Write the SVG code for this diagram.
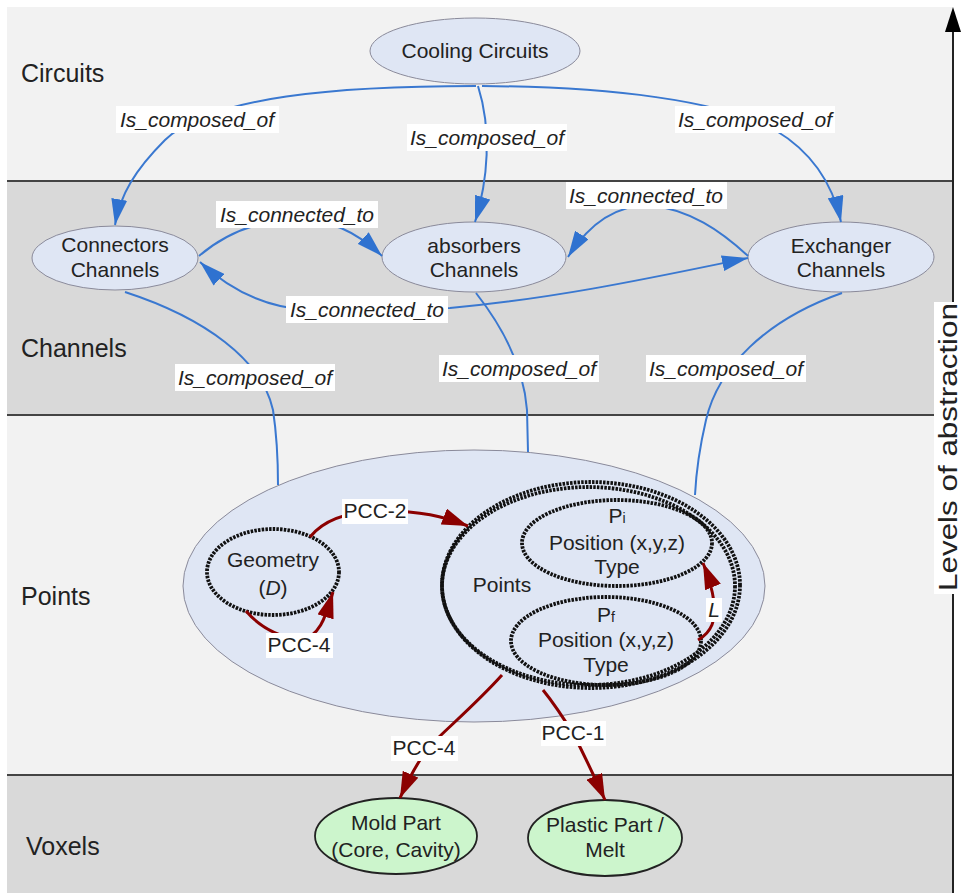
<svg xmlns="http://www.w3.org/2000/svg" width="962" height="895" viewBox="0 0 962 895">
<style>
text{font-family:"Liberation Sans",Arial,sans-serif;fill:#222;}
.band{font-size:25px;}
.nt{font-size:21px;text-anchor:middle;}
.el{font-size:21px;font-style:italic;text-anchor:middle;}
.pl{font-size:21px;text-anchor:middle;}
.lbg{fill:#fff;}
.node{fill:#dfe6f4;stroke:#8a8a9a;stroke-width:1;}
.dash{fill:none;stroke:#111;stroke-width:3.8;stroke-dasharray:2.5 1.2;}
.green{fill:#ccf5cc;stroke:#222;stroke-width:1.8;}
.blue{fill:none;stroke:#3a78d0;stroke-width:2;}
.red{fill:none;stroke:#8b0000;stroke-width:3;}
.sep{stroke:#444;stroke-width:2;}
</style>
<defs>
<marker id="ab" viewBox="0 0 26 16" refX="26" refY="8" markerWidth="26" markerHeight="16" markerUnits="userSpaceOnUse" orient="auto-start-reverse"><path d="M0,0 L26,8 L0,16 z" fill="#2f72d0"/></marker>
<marker id="ar" viewBox="0 0 26 17" refX="26" refY="8.5" markerWidth="26" markerHeight="17" markerUnits="userSpaceOnUse" orient="auto"><path d="M0,0 L26,8.5 L0,17 z" fill="#8b0000"/></marker>
</defs>

<g id="bands">
<rect x="7" y="7" width="946" height="174" fill="#f2f2f2"/>
<rect x="7" y="181" width="946" height="234" fill="#d9d9d9"/>
<rect x="7" y="415" width="946" height="360" fill="#f2f2f2"/>
<rect x="7" y="775" width="946" height="118" fill="#d9d9d9"/>
<line class="sep" x1="7" y1="181" x2="953" y2="181"/>
<line class="sep" x1="7" y1="415" x2="953" y2="415"/>
<line class="sep" x1="7" y1="775" x2="953" y2="775"/>
<line x1="953" y1="28" x2="953" y2="893" stroke="#222" stroke-width="2"/>
<path d="M953,7 L961,32 L945,32 z" fill="#000"/>
<text class="band" x="21" y="82">Circuits</text>
<text class="band" x="21" y="357">Channels</text>
<text class="band" x="21" y="605">Points</text>
<text class="band" x="26" y="855">Voxels</text>
<rect x="934" y="302" width="26" height="292" fill="#fff"/>
<text transform="translate(957,447) rotate(-90)" text-anchor="middle" font-size="25" textLength="288" lengthAdjust="spacingAndGlyphs">Levels of abstraction</text>
</g>

<g id="n-cooling"><ellipse class="node" cx="475" cy="51" rx="105" ry="33"/><text class="nt" x="475" y="58">Cooling Circuits</text></g>
<g id="n-connectors"><ellipse class="node" cx="115" cy="258" rx="83" ry="32"/><text class="nt" x="115" y="252">Connectors</text><text class="nt" x="115" y="277">Channels</text></g>
<g id="n-absorbers"><ellipse class="node" cx="474" cy="257" rx="92" ry="35"/><text class="nt" x="474" y="253">absorbers</text><text class="nt" x="474" y="277">Channels</text></g>
<g id="n-exchanger"><ellipse class="node" cx="841" cy="257" rx="93" ry="35"/><text class="nt" x="841" y="253">Exchanger</text><text class="nt" x="841" y="277">Channels</text></g>
<g id="n-pointsgroup"><ellipse class="node" cx="474" cy="586" rx="291" ry="136"/></g>
<g id="n-geometry"><ellipse class="dash" cx="273" cy="572" rx="66" ry="43"/><text class="nt" x="273" y="567">Geometry</text><text class="nt" x="273" y="595">(<tspan font-style="italic">D</tspan>)</text></g>
<g id="n-points"><ellipse class="dash" cx="591" cy="585" rx="149" ry="103"/><ellipse class="dash" cx="588.5" cy="586" rx="146.5" ry="99" stroke-width="2.2"/><text class="nt" x="502" y="592">Points</text></g>
<g id="n-pi"><ellipse class="dash" cx="617" cy="543" rx="95" ry="43"/><text class="nt" x="617" y="523">P<tspan font-size="14">i</tspan></text><text class="nt" x="617" y="550">Position (x,y,z)</text><text class="nt" x="617" y="574">Type</text></g>
<g id="n-pf"><ellipse class="dash" cx="606" cy="641" rx="95" ry="44"/><text class="nt" x="606" y="622">P<tspan font-size="14">f</tspan></text><text class="nt" x="606" y="647">Position (x,y,z)</text><text class="nt" x="606" y="672">Type</text></g>
<g id="n-mold"><ellipse class="green" cx="396" cy="836" rx="81" ry="38"/><text class="nt" x="396" y="830">Mold Part</text><text class="nt" x="396" y="857">(Core, Cavity)</text></g>
<g id="n-plastic"><ellipse class="green" cx="605" cy="838" rx="77" ry="38"/><text class="nt" x="605" y="832">Plastic Part /</text><text class="nt" x="605" y="857">Melt</text></g>

<g id="connectors">
<path class="blue" d="M476,86 C340,86 210,96 165,140 C135,170 120,195 115,225" marker-end="url(#ab)"/>
<path class="blue" d="M478,86 C492,130 488,180 475,222" marker-end="url(#ab)"/>
<path class="blue" d="M482,86 C610,87 720,100 775,130 C812,152 833,185 841,222" marker-end="url(#ab)"/>
<path class="blue" d="M199,256 C220,238 245,225 280,220 C330,215 360,235 382,256" marker-end="url(#ab)"/>
<path class="blue" d="M748,256 C720,230 690,210 650,205 C610,205 585,230 568,257" marker-end="url(#ab)"/>
<path class="blue" d="M200,262 C230,290 265,308 310,310 L450,308 C560,298 660,276 748,258" marker-start="url(#ab)" marker-end="url(#ab)"/>
<path class="blue" stroke-width="1.5" d="M125,292 C205,318 262,360 273,410 C276,430 278,460 278,485"/>
<path class="blue" stroke-width="2.8" d="M476,293 C505,330 524,370 527,410 L528,452"/>
<path class="blue" stroke-width="1.3" d="M842,293 C765,320 718,368 706,420 C699,450 696,475 695,495"/>

<path class="red" d="M310,537 C322,522 345,512 378,511 C420,510 445,517 468,526" marker-end="url(#ar)"/>
<path class="red" d="M246,611 C258,625 275,636 300,640 C320,638 326,615 333,592" marker-end="url(#ar)"/>
<path class="red" d="M502,675 C475,705 445,730 428,748 C418,762 408,780 400,798" marker-end="url(#ar)"/>
<path class="red" d="M543,690 C556,706 566,722 574,735 C585,757 596,780 605,800" marker-end="url(#ar)"/>
<path class="red" d="M698,640 C712,632 716,620 714,602 C712,588 708,575 703,563" marker-end="url(#ar)"/>

<rect class="lbg" x="116" y="106" width="163" height="27"/><text class="el" x="197" y="127">Is_composed_of</text>
<rect class="lbg" x="407" y="124" width="160" height="27"/><text class="el" x="487" y="145">Is_composed_of</text>
<rect class="lbg" x="675" y="106" width="160" height="27"/><text class="el" x="755" y="127">Is_composed_of</text>
<rect class="lbg" x="216" y="201" width="162" height="27"/><text class="el" x="297" y="222">Is_connected_to</text>
<rect class="lbg" x="566" y="182" width="161" height="27"/><text class="el" x="646" y="203">Is_connected_to</text>
<rect class="lbg" x="286" y="296" width="162" height="27"/><text class="el" x="367" y="317">Is_connected_to</text>
<rect class="lbg" x="175" y="364" width="160" height="27"/><text class="el" x="255" y="385">Is_composed_of</text>
<rect class="lbg" x="439" y="355" width="160" height="27"/><text class="el" x="519" y="376">Is_composed_of</text>
<rect class="lbg" x="646" y="355" width="160" height="27"/><text class="el" x="726" y="376">Is_composed_of</text>

<rect class="lbg" x="342" y="499" width="66" height="25"/><text class="pl" x="375" y="518">PCC-2</text>
<rect class="lbg" x="266" y="633" width="67" height="25"/><text class="pl" x="299" y="652">PCC-4</text>
<rect class="lbg" x="391" y="736" width="67" height="25"/><text class="pl" x="424" y="755">PCC-4</text>
<rect class="lbg" x="541" y="721" width="65" height="25"/><text class="pl" x="573" y="740">PCC-1</text>
<rect class="lbg" x="706" y="598" width="16" height="24"/><text class="el" x="714" y="617">L</text>
</g>
</svg>
